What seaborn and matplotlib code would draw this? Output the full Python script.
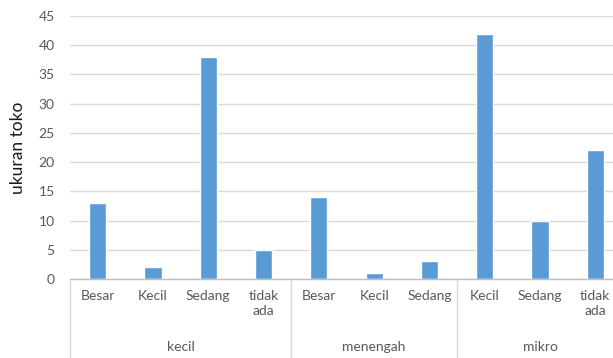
import matplotlib
matplotlib.use("Agg")
import matplotlib.pyplot as plt
import matplotlib.transforms as mtransforms
import seaborn as sns
import pandas as pd

# Store size groups and their sub-categories
groups = ["kecil", "kecil", "kecil", "kecil",
          "menengah", "menengah", "menengah",
          "mikro", "mikro", "mikro"]
subcats = ["Besar", "Kecil", "Sedang", "tidak\nada",
           "Besar", "Kecil", "Sedang",
           "Kecil", "Sedang", "tidak\nada"]
counts = [13, 2, 38, 5, 14, 1, 3, 42, 10, 22]
group_names = ["kecil", "menengah", "mikro"]
yticks = [0, 5, 10, 15, 20, 25, 30, 35, 40, 45]

df = pd.DataFrame({"group": groups, "sub": subcats, "count": counts})
df["key"] = df["group"] + "|" + df["sub"]

sns.set_theme(style="white")
plt.rcParams["font.family"] = ["Lato", "DejaVu Sans"]

W, H = 613, 358
fig = plt.figure(figsize=(W / 100, H / 100), dpi=100)
left, right, bottom, top = 70, 623, 279, 16
ax = fig.add_axes([left / W, (H - bottom) / H, (right - left) / W, (bottom - top) / H])

sns.barplot(data=df, x="key", y="count", order=list(df["key"]),
            color="#5B9BD5", saturation=1, width=0.31, ax=ax)

ax.set_ylim(0, 45)
ax.set_xlim(-0.5, len(df) - 0.5)
ax.set_yticks(yticks)
ax.yaxis.grid(True, color="#D9D9D9", linewidth=1)
ax.set_axisbelow(True)
for s in ["top", "right", "left"]:
    ax.spines[s].set_visible(False)
ax.spines["bottom"].set_color("#BFBFBF")
ax.spines["bottom"].set_linewidth(1)

ax.tick_params(axis="both", length=0, labelsize=10, labelcolor="#595959")
ax.tick_params(axis="y", pad=11)
ax.tick_params(axis="x", pad=8)
ax.set_xticks(range(len(df)))
ax.set_xticklabels(df["sub"], multialignment="center", linespacing=1.3)
ax.set_xlabel("")
ax.set_ylabel("ukuran toko", fontsize=12.5, color="#1a1a1a", labelpad=9)

# Group separators and group labels below the axis
trans = mtransforms.blended_transform_factory(ax.transData, ax.transAxes)
depth = -(H - bottom) / (bottom - top)
bounds = [-0.5]
start = 0
for g in group_names:
    n = groups.count(g)
    end = start + n
    bounds.append(end - 0.5)
    ax.text((start + end - 1) / 2, -(347 - bottom) / (bottom - top), g,
            transform=trans, ha="center", va="center",
            fontsize=10, color="#595959")
    start = end
for b in bounds[:-1]:
    ax.plot([b, b], [0, depth], transform=trans, color="#D9D9D9",
            linewidth=1, clip_on=False)

fig.savefig("out.png", dpi=100)
